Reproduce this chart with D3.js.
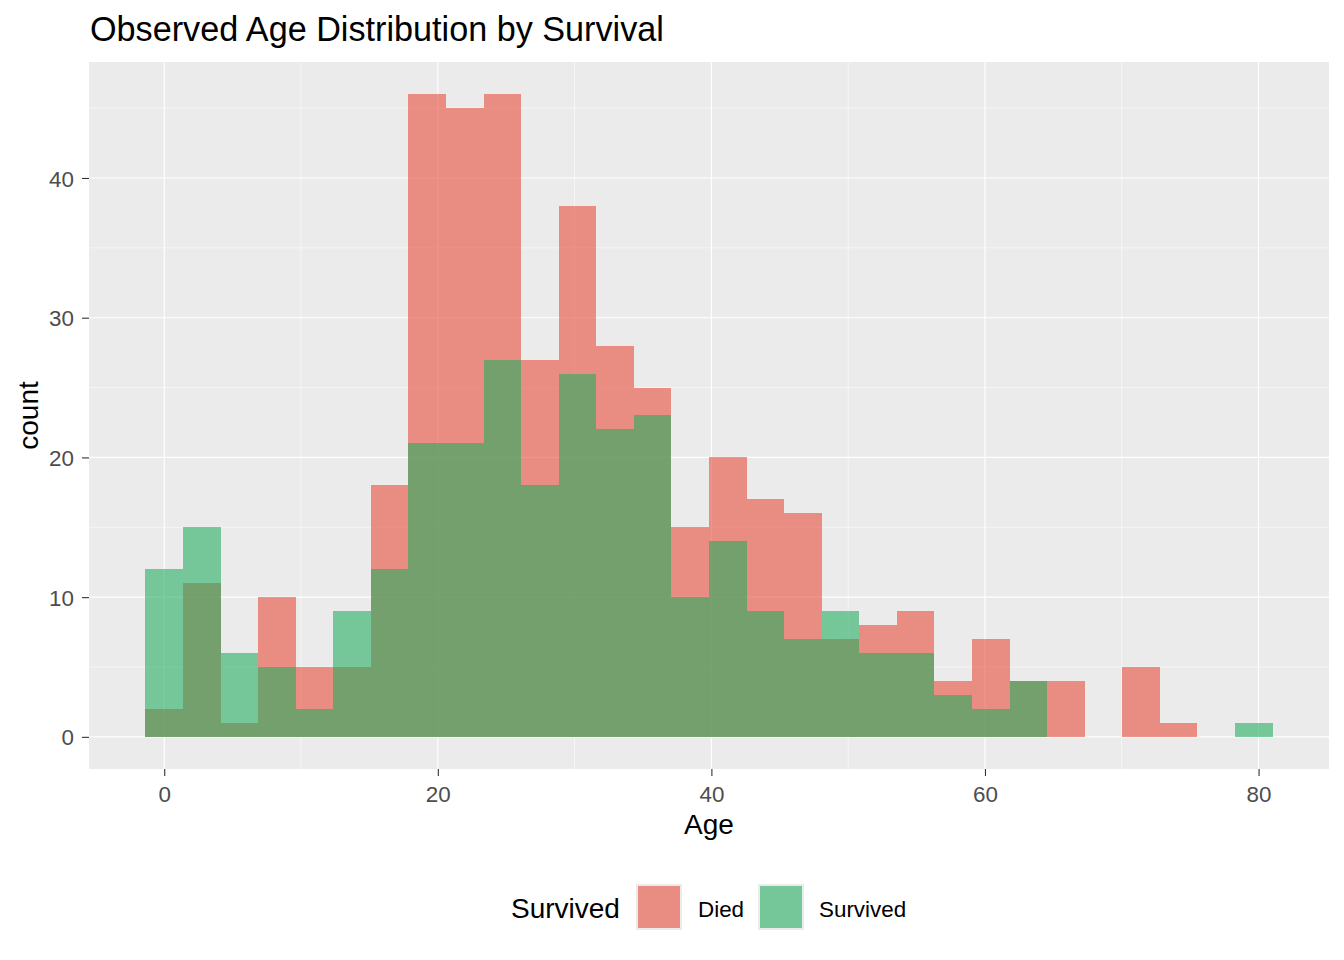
<!DOCTYPE html>
<html>
<head>
<meta charset="utf-8">
<script src="https://cdn.jsdelivr.net/npm/d3@7"></script>
<style>
  html, body { margin: 0; padding: 0; background: #ffffff; }
  svg { display: block; font-family: "Liberation Sans", Arial, sans-serif; }
</style>
</head>
<body>
<svg id="chart" width="1344" height="960"></svg>
<script>
// ---- data ----
const binStart = -1.38;          // left edge of first bin (years)
const binWidth = 2.747;          // histogram bin width (years)
const died     = [2,11,1,10,5,5,18,46,45,46,27,38,28,25,15,20,17,16,7,8,9,4,7,4,4,0,5,1,0,0];
const survived = [12,15,6,5,2,9,12,21,21,27,18,26,22,23,10,14,9,7,9,6,6,3,2,4,0,0,0,0,0,1];
const seriesNames = ["Died", "Survived"];
const xTicks = [0, 20, 40, 60, 80];
const xMinor = [10, 30, 50, 70];
const yTicks = [0, 10, 20, 30, 40];
const yMinor = [5, 15, 25, 35, 45];
const titleText = "Observed Age Distribution by Survival";
const xLabel = "Age";
const yLabel = "count";
const legendTitle = "Survived";

// ---- layout ----
const panel = { left: 89, right: 1329, top: 62, bottom: 769 };
const colors = { Died: "#E74C3C", Survived: "#27AE60" };
const alpha = 0.6;

const svg = d3.select("#chart");

const nBins = died.length;
const xLo = binStart, xHi = binStart + nBins * binWidth;
const xPad = (xHi - xLo) * 0.05;
const yMax = d3.max(died.concat(survived));
const yPad = yMax * 0.05;

const x = d3.scaleLinear().domain([xLo - xPad, xHi + xPad]).range([panel.left, panel.right]);
const y = d3.scaleLinear().domain([-yPad, yMax + yPad]).range([panel.bottom, panel.top]);

// panel background
svg.append("rect")
  .attr("x", panel.left).attr("y", panel.top)
  .attr("width", panel.right - panel.left).attr("height", panel.bottom - panel.top)
  .attr("fill", "#EBEBEB");

// grid
const grid = svg.append("g");
xMinor.forEach(v => grid.append("line")
  .attr("x1", x(v)).attr("x2", x(v)).attr("y1", panel.top).attr("y2", panel.bottom)
  .attr("stroke", "#fff").attr("stroke-width", 0.55));
yMinor.forEach(v => grid.append("line")
  .attr("y1", y(v)).attr("y2", y(v)).attr("x1", panel.left).attr("x2", panel.right)
  .attr("stroke", "#fff").attr("stroke-width", 0.55));
xTicks.forEach(v => grid.append("line")
  .attr("x1", x(v)).attr("x2", x(v)).attr("y1", panel.top).attr("y2", panel.bottom)
  .attr("stroke", "#fff").attr("stroke-width", 1.1));
yTicks.forEach(v => grid.append("line")
  .attr("y1", y(v)).attr("y2", y(v)).attr("x1", panel.left).attr("x2", panel.right)
  .attr("stroke", "#fff").attr("stroke-width", 1.1));

// bars
const seriesData = { Died: died, Survived: survived };
seriesNames.forEach(name => {
  const vals = seriesData[name];
  svg.append("g").selectAll("rect")
    .data(vals.map((c, i) => ({ x0: binStart + i * binWidth, x1: binStart + (i + 1) * binWidth, c })))
    .join("rect")
    .attr("x", d => Math.round(x(d.x0)))
    .attr("width", d => Math.round(x(d.x1)) - Math.round(x(d.x0)))
    .attr("y", d => Math.round(y(d.c)))
    .attr("height", d => Math.round(y(0)) - Math.round(y(d.c)))
    .attr("fill", colors[name])
    .attr("fill-opacity", alpha)
    .attr("shape-rendering", "crispEdges");
});

// axes
const xAxis = d3.axisBottom(x).tickValues(xTicks).tickSize(7).tickPadding(5).tickFormat(d3.format("d"));
const gx = svg.append("g").attr("transform", `translate(0,${panel.bottom})`).call(xAxis);
gx.select(".domain").remove();
gx.selectAll("line").attr("stroke", "#333333").attr("stroke-width", 1.1);
gx.selectAll("text").attr("fill", "#4D4D4D").style("font-size", "22.4px")
  .attr("dy", null).attr("y", 33);

const yAxis = d3.axisLeft(y).tickValues(yTicks).tickSize(7).tickPadding(5).tickFormat(d3.format("d"));
const gy = svg.append("g").attr("transform", `translate(${panel.left},0)`).call(yAxis);
gy.select(".domain").remove();
gy.selectAll("line").attr("stroke", "#333333").attr("stroke-width", 1.1);
gy.selectAll("text").attr("fill", "#4D4D4D").style("font-size", "22.4px")
  .attr("dy", "0.36em").attr("x", -15);

// title & axis labels
svg.append("text").attr("x", 90).attr("y", 41)
  .style("font-size", "34.2px").attr("fill", "#000").text(titleText);
svg.append("text").attr("x", (panel.left + panel.right) / 2).attr("y", 834)
  .attr("text-anchor", "middle").style("font-size", "28px").attr("fill", "#000").text(xLabel);
svg.append("text")
  .attr("transform", `translate(38,${(panel.top + panel.bottom) / 2}) rotate(-90)`)
  .attr("text-anchor", "middle").style("font-size", "28px").attr("fill", "#000").text(yLabel);

// legend
const lg = svg.append("g");
lg.append("text").attr("x", 511).attr("y", 918).style("font-size", "28px").attr("fill", "#000").text(legendTitle);
const keyX = [636, 758];
const labX = [698, 819];
seriesNames.forEach((name, i) => {
  lg.append("rect").attr("x", keyX[i]).attr("y", 884).attr("width", 46).attr("height", 46).attr("fill", "#EBEBEB");
  lg.append("rect").attr("x", keyX[i] + 2).attr("y", 886).attr("width", 42).attr("height", 42)
    .attr("fill", colors[name]).attr("fill-opacity", alpha);
  lg.append("text").attr("x", labX[i]).attr("y", 917).style("font-size", "22.4px").attr("fill", "#000").text(name);
});
</script>
</body>
</html>
